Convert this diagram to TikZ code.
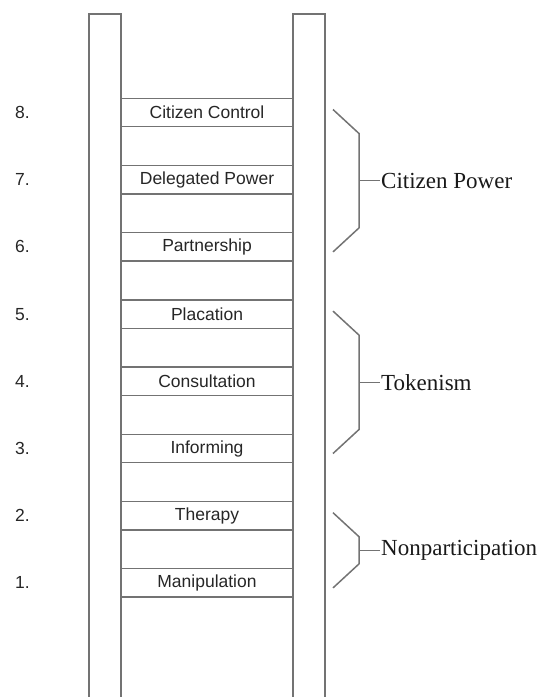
\documentclass[tikz,border=0pt]{standalone}
\usepackage{fontspec}
\setmainfont{Liberation Serif}
\setsansfont{Liberation Sans}
\usetikzlibrary{calc}
\colorlet{railgray}{black!55}
\tikzset{
  rail/.style={line width=1.5pt, draw=railgray},
  rung/.style={minimum width=172pt, minimum height=28pt, inner sep=0pt,
    text=black!85, font=\sffamily\fontsize{17.5}{20}\selectfont},
  num/.style={anchor=west, inner sep=0pt, text=black!85,
    font=\sffamily\fontsize{17.5}{20}\selectfont},
  group/.style={anchor=west, inner sep=1pt, text=black!90,
    font=\rmfamily\fontsize{23}{26}\selectfont}
}
% bracket from rung #1 down to rung #2, label node #3 with text #4
\newcommand{\groupbrace}[4]{%
  \coordinate (#3a) at ($(r#1.center)+(126,-3)$);
  \coordinate (#3b) at ($(#3a)+(26,24)$);
  \coordinate (#3d) at ($(r#2.center)+(126,5)$);
  \coordinate (#3c) at ($(#3d)+(26,-24)$);
  \coordinate (#3m) at ($(#3b)!0.5!(#3c)$);
  \node[group] (#3) at ($(#3m)+(21,0)$) {#4};
  \draw[rail] (#3a) -- (#3b) -- (#3c) -- (#3d);
  \draw[rail] (#3m) -- (#3.west);
}
\begin{document}
\begin{tikzpicture}[x=1pt, y=-1pt]
\useasboundingbox (0,0) rectangle (543,697);
% the two rails, open at the bottom
\draw[rail] (89,697) -- (89,14) -- (121,14) -- (121,697);
\draw[rail] (293,697) -- (293,14) -- (325,14) -- (325,697);
% rungs
\foreach \i/\txt [evaluate=\i as \yy using {112.5+(8-\i)*67.2}] in
  {8/Citizen Control, 7/Delegated Power, 6/Partnership, 5/Placation,
   4/Consultation, 3/Informing, 2/Therapy, 1/Manipulation}{
  \node[rung] (r\i) at (207,\yy) {\txt};
  \node[num] (n\i) at (15,\yy) {\i.};
  \draw[rail] (r\i.north west) -- (r\i.north east);
  \draw[rail] (r\i.south west) -- (r\i.south east);
}
\groupbrace{8}{6}{cp}{Citizen Power}
\groupbrace{5}{3}{tk}{Tokenism}
\groupbrace{2}{1}{np}{Nonparticipation}
\end{tikzpicture}
\end{document}
